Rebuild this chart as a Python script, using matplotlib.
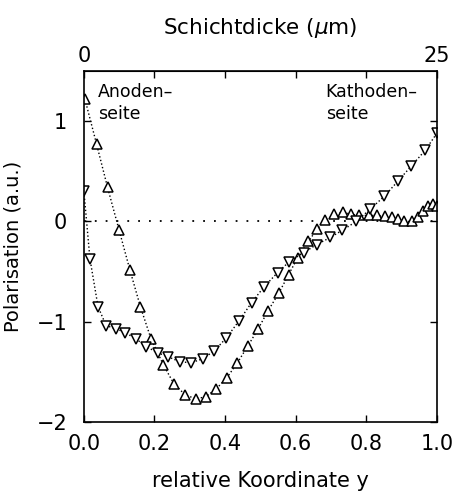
import matplotlib
matplotlib.use('Agg')
import matplotlib.pyplot as plt

# upward triangles
x_up = [0.003, 0.036, 0.067, 0.1, 0.13, 0.16, 0.19, 0.225, 0.255, 0.287,
        0.317, 0.345, 0.375, 0.405, 0.435, 0.465, 0.494, 0.522, 0.553, 0.58,
        0.606, 0.636, 0.66, 0.684, 0.71, 0.734, 0.758, 0.78, 0.807, 0.83,
        0.853, 0.872, 0.89, 0.908, 0.929, 0.946, 0.962, 0.976, 0.99, 1.0]
y_up = [1.22, 0.77, 0.34, -0.09, -0.48, -0.85, -1.17, -1.43, -1.62, -1.73,
        -1.77, -1.75, -1.67, -1.56, -1.41, -1.24, -1.07, -0.89, -0.71, -0.53,
        -0.36, -0.20, -0.08, 0.01, 0.07, 0.09, 0.07, 0.06, 0.06, 0.06,
        0.05, 0.04, 0.02, 0.0, 0.0, 0.04, 0.10, 0.15, 0.17, 0.15]

# downward triangles
x_down = [0.0, 0.017, 0.04, 0.063, 0.091, 0.117, 0.147, 0.177, 0.209, 0.238,
          0.272, 0.304, 0.337, 0.37, 0.404, 0.44, 0.475, 0.511, 0.549, 0.582,
          0.623, 0.66, 0.698, 0.731, 0.772, 0.81, 0.851, 0.889, 0.927, 0.967, 1.0]
y_down = [0.30, -0.37, -0.85, -1.04, -1.07, -1.11, -1.17, -1.25, -1.31, -1.35,
          -1.40, -1.41, -1.37, -1.29, -1.16, -0.99, -0.81, -0.65, -0.51, -0.40,
          -0.31, -0.23, -0.16, -0.09, 0.0, 0.12, 0.25, 0.40, 0.55, 0.71, 0.88]

x_ticks = [0.0, 0.2, 0.4, 0.6, 0.8, 1.0]
y_ticks = [-2, -1, 0, 1]
top_ticks = [0, 5, 10, 15, 20, 25]
top_labels = ['0', '', '', '', '', '25']

plt.rcParams['font.family'] = ['DejaVu Sans']
fig = plt.figure(figsize=(4.56, 4.94), dpi=100)
ax = fig.add_axes([0.184, 0.146, 0.774, 0.71])

ax.plot([0, 1], [0, 0], color='black', linestyle=(0, (1, 5)), linewidth=1.3)
ax.plot(x_up, y_up, color='black', linestyle=':', linewidth=1.0,
        marker='^', markersize=6.5, markerfacecolor='white',
        markeredgecolor='black', markeredgewidth=1.1)
ax.plot(x_down, y_down, color='black', linestyle=':', linewidth=1.0,
        marker='v', markersize=6.5, markerfacecolor='white',
        markeredgecolor='black', markeredgewidth=1.1)

ax.set_xlim(0, 1.0)
ax.set_ylim(-2, 1.5)
ax.set_xticks(x_ticks)
ax.set_xticklabels(['0.0', '0.2', '0.4', '0.6', '0.8', '1.0'])
ax.set_yticks(y_ticks)
ax.set_yticklabels(['\u22122', '\u22121', '0', '1'])
ax.tick_params(direction='in', length=5, width=1, labelsize=15,
               right=True)
ax.tick_params(axis='x', pad=9)
ax.tick_params(axis='y', pad=12)
for s in ax.spines.values():
    s.set_linewidth(1.2)

sec = ax.secondary_xaxis('top', functions=(lambda v: v * 25, lambda v: v / 25))
sec.set_xticks(top_ticks)
sec.set_xticklabels(top_labels)
sec.tick_params(direction='in', length=5, width=1, labelsize=15, pad=4)
sec.set_xlabel('Schichtdicke ($\\mu$m)', fontsize=15.5, labelpad=8)

ax.set_xlabel('relative Koordinate y', fontsize=15, labelpad=12)
ax.set_ylabel('Polarisation (a.u.)', fontsize=14, labelpad=10)

ax.text(0.04, 1.38, 'Anoden\u2013\nseite', fontsize=12.5, va='top', ha='left',
        linespacing=1.3)
ax.text(0.685, 1.38, 'Kathoden\u2013\nseite', fontsize=12.5, va='top', ha='left',
        linespacing=1.3)

fig.savefig('out.png', dpi=100)
